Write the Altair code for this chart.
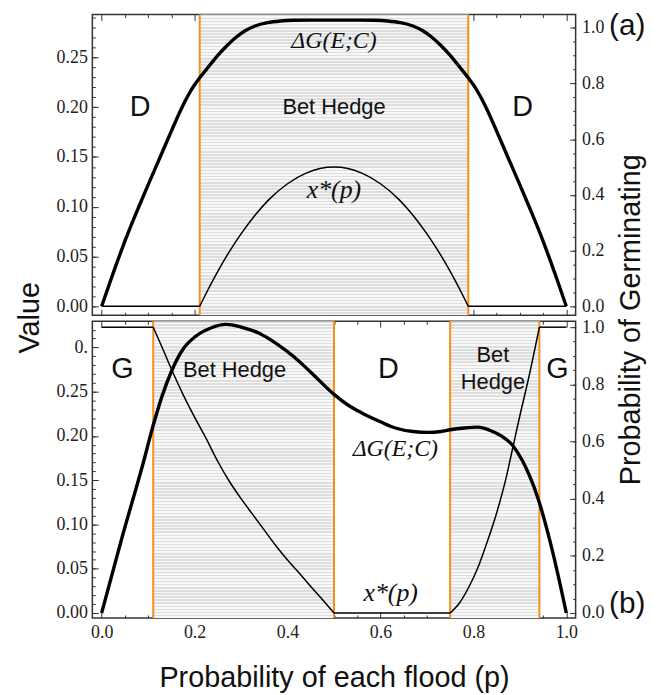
import altair as alt
import pandas as pd

# ---------------- data ----------------
# (a) top panel
top_p_dg = [0, 0.02, 0.04, 0.064, 0.08, 0.10, 0.126, 0.15, 0.169, 0.18, 0.19, 0.20, 0.211, 0.222, 0.236,
            0.25, 0.271, 0.29, 0.308, 0.33, 0.357, 0.385, 0.414, 0.45, 0.5,
            0.55, 0.586, 0.615, 0.643, 0.67, 0.692, 0.71, 0.729, 0.75, 0.764, 0.778, 0.789, 0.80, 0.81,
            0.82, 0.831, 0.85, 0.874, 0.90, 0.92, 0.936, 0.96, 0.98, 1.0]
top_dg = [0, 0.027, 0.053, 0.082, 0.100, 0.122, 0.150, 0.176, 0.196, 0.2065, 0.215, 0.2225, 0.2295, 0.236,
          0.2441, 0.252, 0.2625, 0.2705, 0.2765, 0.2815, 0.2849, 0.2866, 0.2873, 0.2875, 0.2875,
          0.2875, 0.2873, 0.2866, 0.2849, 0.2815, 0.2765, 0.2705, 0.2625, 0.252, 0.2441, 0.236, 0.2295,
          0.2225, 0.215, 0.2065, 0.196, 0.176, 0.150, 0.122, 0.100, 0.082, 0.053, 0.027, 0]
top_p_x = [0, 0.211, 0.211, 0.225, 0.24, 0.26, 0.28, 0.30, 0.33, 0.36, 0.40, 0.44, 0.47, 0.5,
           0.53, 0.56, 0.60, 0.64, 0.67, 0.70, 0.72, 0.74, 0.76, 0.775, 0.789, 0.789, 1.0]
top_x = [0, 0, 0, 0.047, 0.095, 0.155, 0.21, 0.26, 0.327, 0.383, 0.44, 0.478, 0.495, 0.5,
         0.495, 0.478, 0.44, 0.383, 0.327, 0.26, 0.21, 0.155, 0.095, 0.047, 0, 0, 0]
top_x_seg = [0, 0] + [1] * 23 + [2, 2]
top_bounds = [0.211, 0.789]
top_hedge_start = [0.211]
top_hedge_end = [0.789]

# (b) bottom panel
bot_p_dg = [0, 0.044, 0.0905, 0.111, 0.13, 0.151, 0.175, 0.201, 0.235, 0.268, 0.30, 0.343, 0.38, 0.415,
            0.45, 0.5, 0.53, 0.56, 0.6, 0.632, 0.67, 0.703, 0.73, 0.75, 0.78, 0.81, 0.835, 0.86, 0.885,
            0.905, 0.92, 0.94, 0.96, 0.98, 1.0]
bot_dg = [0, 0.0855, 0.1715, 0.212, 0.245, 0.274, 0.298, 0.312, 0.322, 0.326, 0.323, 0.315, 0.303, 0.289,
          0.272, 0.247, 0.235, 0.226, 0.216, 0.209, 0.205, 0.204, 0.205, 0.207, 0.209, 0.21, 0.2065, 0.200,
          0.189, 0.1725, 0.156, 0.128, 0.091, 0.048, 0]
bot_p_x = [0, 0.111, 0.111, 0.13, 0.151, 0.175, 0.2, 0.225, 0.25, 0.275, 0.3, 0.325, 0.35, 0.375, 0.4,
           0.425, 0.45, 0.475, 0.5, 0.5, 0.75, 0.75, 0.77, 0.79, 0.81, 0.83, 0.85, 0.87, 0.885, 0.9,
           0.92, 0.942, 0.942, 1.0]
bot_x = [1, 1, 1, 0.93, 0.85, 0.765, 0.685, 0.61, 0.53, 0.46, 0.40, 0.345, 0.29, 0.235, 0.185,
         0.14, 0.093, 0.047, 0, 0, 0, 0, 0.035, 0.09, 0.16, 0.25, 0.35, 0.47, 0.58, 0.69,
         0.83, 1.0, 1.0, 1.0]
bot_x_seg = [0, 0] + [1] * 17 + [2, 2] + [3] * 11 + [4, 4]
bot_bounds = [0.111, 0.5, 0.75, 0.942]
bot_hedge_start = [0.111, 0.75]
bot_hedge_end = [0.5, 0.942]

x_ticks_major = [0.0, 0.2, 0.4, 0.6, 0.8, 1.0]
x_ticks_minor = [0.05, 0.1, 0.15, 0.25, 0.3, 0.35, 0.45, 0.5, 0.55, 0.65, 0.7, 0.75, 0.85, 0.9, 0.95]
top_left_major = [0.0, 0.05, 0.10, 0.15, 0.20, 0.25]
bot_left_major = [0.0, 0.05, 0.10, 0.15, 0.20, 0.25, 0.30]
left_minor = [i / 100 for i in range(0, 33)]
right_major = [0.0, 0.2, 0.4, 0.6, 0.8, 1.0]
right_minor = [i / 20 for i in range(0, 21)]

# ---------------- styling ----------------
W = 487
H_TOP = 303
H_BOT = 299
X_DOM = [-0.02, 1.02]
TOP_L = [-0.009, 0.293]
TOP_R = [-0.032, 1.047]
BOT_L = [-0.0056, 0.3296]
BOT_R = [-0.0174, 1.0208]
FRAME = "#333333"
ORANGE = "#F2901A"
SERIF = "Liberation Serif"
SANS = "Liberation Sans"


def stripes(n):
    stops = []
    for i in range(n):
        a, b, c = i / n, (i + 0.5) / n, (i + 1) / n
        stops += [alt.GradientStop(color="#dedede", offset=a),
                  alt.GradientStop(color="#dedede", offset=b),
                  alt.GradientStop(color="#f8f8f8", offset=b),
                  alt.GradientStop(color="#f8f8f8", offset=c)]
    return alt.LinearGradient(gradient="linear", stops=stops, x1=0, x2=0, y1=0, y2=1)


def ax(orient, values, size, labels=False, fmt=None, label_expr=None, title=None, **kw):
    opts = dict(orient=orient, values=values, tickSize=size, offset=-size, domain=False, grid=False,
                labels=labels, tickColor=FRAME, tickWidth=1, labelFont=SERIF, labelFontSize=18,
                labelColor="#222222", title=title, titleFont=SANS, titleFontSize=29,
                titleFontWeight="normal", titleColor="#111111")
    if fmt:
        opts["format"] = fmt
    if label_expr:
        opts["labelExpr"] = label_expr
    opts.update(kw)
    return alt.Axis(**opts)


def xs(field, axis=None):
    return alt.X(field, type="quantitative", scale=alt.Scale(domain=X_DOM, nice=False, zero=False),
                 axis=axis)


def ys(field, dom, axis=None):
    return alt.Y(field, type="quantitative", scale=alt.Scale(domain=dom, nice=False, zero=False),
                 axis=axis)


def panel(p_dg, dg, p_x, xv, xseg, bounds, hs, he, ldom, rdom, left_major, height, bottom_labels,
          texts, mtexts, tag, tag_y, titles):
    dg_df = pd.DataFrame({"p": p_dg, "v": dg})
    x_df = pd.DataFrame({"p": p_x, "r": xv, "seg": xseg})
    hedge_df = pd.DataFrame({"a": hs, "b": he})
    b_df = pd.DataFrame({"p": bounds})

    hatch = alt.Chart(hedge_df).mark_rect(fill=stripes(int(height / 3.1))).encode(
        x=xs("a:Q"), x2="b:Q", y=alt.value(0), y2=alt.value(height))
    rules = alt.Chart(b_df).mark_rule(color=ORANGE, strokeWidth=2).encode(x=xs("p:Q"))

    if bottom_labels:
        xmaj = ax("bottom", x_ticks_major, 6, labels=True, fmt=".1f", labelPadding=6,
                  title="Probability of each flood (p)", titlePadding=22)
    else:
        xmaj = ax("bottom", x_ticks_major, 6)
    lmaj_kw = dict(labelPadding=5)
    if titles:
        lmaj_kw.update(title="Value", titleX=-54, titleY=305, titleAngle=270,
                       titleBaseline="bottom", titleAlign="center")
    if left_major[-1] >= 0.3:
        lmaj = ax("left", left_major, 6, labels=True,
                  label_expr="datum.value >= 0.299 ? '0.' : format(datum.value, '.2f')", **lmaj_kw)
    else:
        lmaj = ax("left", left_major, 6, labels=True, fmt=".2f", **lmaj_kw)
    rmaj_kw = dict(labelPadding=6)
    if titles:
        rmaj_kw.update(title="Probability of Germinating", titleX=47, titleY=307, titleAngle=270,
                       titleBaseline="top", titleAlign="center")
    rmaj = ax("right", right_major, 6, labels=True, fmt=".1f", **rmaj_kw)

    dg_line = alt.Chart(dg_df).mark_line(color="black", strokeWidth=3.4, interpolate="monotone").encode(
        x=xs("p:Q", xmaj), y=ys("v:Q", ldom, lmaj))
    dg_minor = alt.Chart(dg_df).mark_line(strokeOpacity=0).encode(
        x=xs("p:Q", ax("bottom", x_ticks_minor, 3)),
        y=ys("v:Q", ldom, ax("left", [v for v in left_minor if v <= ldom[1]], 3)))
    x_line = alt.Chart(x_df).mark_line(color="black", strokeWidth=1.5, interpolate="monotone").encode(
        x=xs("p:Q", ax("top", x_ticks_major, 6)), y=ys("r:Q", rdom, rmaj), detail="seg:N")
    x_minor = alt.Chart(x_df).mark_line(strokeOpacity=0).encode(
        x=xs("p:Q", ax("top", x_ticks_minor, 3)),
        y=ys("r:Q", rdom, ax("right", right_minor, 3)), detail="seg:N")

    layers = [hatch, rules, dg_line, dg_minor, x_line, x_minor]
    for (tx, tp, tv, size) in texts:
        df = pd.DataFrame({"t": tx, "p": tp, "v": tv})
        layers.append(alt.Chart(df).mark_text(font=SANS, fontSize=size, color="#111111").encode(
            x=xs("p:Q"), y=ys("v:Q", ldom), text="t:N"))
    for (tx, tp, tv, size) in mtexts:
        mdf = pd.DataFrame({"t": tx, "p": tp, "v": tv})
        layers.append(alt.Chart(mdf).mark_text(font=SERIF, fontSize=size, fontStyle="italic",
                                               color="#111111").encode(
            x=xs("p:Q"), y=ys("v:Q", ldom), text="t:N"))
    layers.append(alt.Chart(pd.DataFrame({"t": [tag]})).mark_text(
        font=SANS, fontSize=30, color="#111111").encode(
        x=alt.value(539), y=alt.value(tag_y), text="t:N"))

    return alt.layer(*layers).resolve_scale(y="independent").resolve_axis(
        x="independent", y="independent").properties(width=W, height=height)


top = panel(top_p_dg, top_dg, top_p_x, top_x, top_x_seg, top_bounds, top_hedge_start, top_hedge_end,
            TOP_L, TOP_R, top_left_major, H_TOP, False,
            [(["D", "D"], [0.083, 0.906], [0.2, 0.2], 29),
             (["Bet Hedge"], [0.5], [0.2], 22)],
            [(["ΔG(E;C)"], [0.5], [0.266], 24), (["x*(p)"], [0.5], [0.1165], 26)],
            "(a)", 12, True)

bottom = panel(bot_p_dg, bot_dg, bot_p_x, bot_x, bot_x_seg, bot_bounds, bot_hedge_start, bot_hedge_end,
               BOT_L, BOT_R, bot_left_major, H_BOT, True,
               [(["G", "D", "G"], [0.045, 0.617, 0.981], [0.275, 0.275, 0.275], 29),
                (["Bet Hedge", "Bet", "Hedge"], [0.286, 0.842, 0.842], [0.275, 0.291, 0.261], 22)],
               [(["ΔG(E;C)"], [0.632], [0.185], 24), (["x*(p)"], [0.622], [0.022], 26)],
               "(b)", 285, False)

chart = alt.vconcat(top, bottom, spacing=6, bounds="flush").configure_view(
    stroke=FRAME, strokeWidth=1.5).properties(padding={"left": 7, "top": 0, "right": 10, "bottom": 0})

chart.save("out.html", embed_options={"renderer": "svg", "actions": False})
